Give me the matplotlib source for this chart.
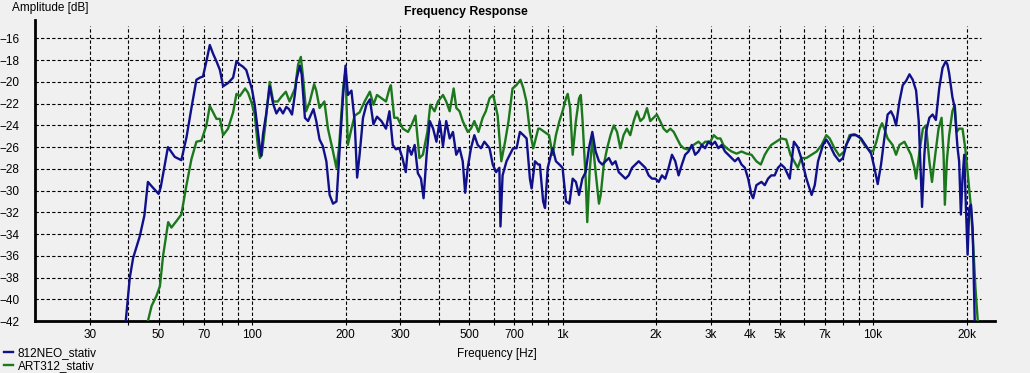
import numpy as np
import matplotlib
matplotlib.use("Agg")
import matplotlib.pyplot as plt
from matplotlib.ticker import FixedLocator, NullFormatter

# 812NEO_stativ (blue)
neo_freq = [38.5, 39.2, 40.4, 41.4, 43.5, 45, 46.2, 47.5, 50, 50.8, 53.6, 56.4, 59.2, 61.5, 63.8,
            66.2, 68, 69.5, 71.3, 73.1, 74.9, 76.8, 78.8, 80.7, 83.7, 86.9, 89.1, 91.3, 93.5, 95.8,
            98.3, 100, 102, 104.5, 106, 107, 108.5, 111, 114, 116.9, 119.8, 122.8, 125.8, 128.9,
            131.5, 134.5, 137.3, 139, 142.5, 144.5, 148, 151.5, 157.7, 161, 165, 169, 173.5, 177.8,
            182.3, 187, 191.6, 196.6, 200, 203.6, 209, 214, 218, 222, 227.7, 233.5, 239.7, 246,
            252.6, 261, 270, 277, 284, 290.6, 298, 305, 312.7, 318, 326, 334, 342, 350, 356.8, 365,
            373.7, 383, 392.5, 402, 412, 422, 433, 443.7, 454.6, 466, 477, 485.6, 495, 507, 520,
            533, 546, 560, 582, 596, 611, 626, 631, 641, 660, 676, 693, 711, 729, 748, 766, 785,
            795, 815, 835, 845, 866, 878, 896, 929, 952, 977, 1000, 1026, 1052, 1078, 1104, 1130,
            1158, 1187, 1216, 1247, 1278, 1310, 1342, 1376, 1410, 1445, 1481, 1517, 1555, 1594,
            1633, 1674, 1716, 1759, 1803, 1848, 1894, 1941, 1990, 2040, 2090, 2142, 2196, 2251,
            2307, 2364, 2423, 2483, 2545, 2608, 2673, 2740, 2808, 2878, 2950, 3023, 3098, 3175,
            3254, 3335, 3418, 3503, 3590, 3680, 3771, 3865, 3960, 4060, 4110, 4210, 4370, 4480,
            4590, 4700, 4820, 4940, 5060, 5190, 5390, 5560, 5720, 5870, 6100, 6340, 6490, 6650,
            6900, 7070, 7250, 7510, 7790, 8000, 8190, 8500, 8820, 9150, 9500, 9860, 10100, 10350,
            10610, 10870, 11140, 11420, 11650, 11860, 12160, 12460, 12780, 13100, 13420, 13760,
            14030, 14280, 14380, 14630, 14810, 15180, 15550, 15930, 16330, 16740, 17150, 17360,
            17580, 18010, 18300, 18700, 18930, 19180, 19410, 19660, 19910, 20160, 20410, 20670,
            20930, 21090, 21250, 21400]
neo_db = [-43, -42, -38, -36.2, -34.2, -32.3, -29.2, -29.6, -30.3, -29.7, -26, -26.9, -27.2, -25.1,
          -22.4, -19.8, -19.6, -19.5, -18.1, -16.6, -17.4, -18.1, -18.9, -20.4, -20.1, -19.6, -18.1,
          -18.4, -18.6, -18.9, -20.0, -20.7, -22.1, -24.6, -26.1, -26.8, -24.8, -23, -20.4, -22,
          -22.9, -22.4, -22.9, -22.3, -22.5, -23, -21.2, -19.8, -18.5, -19.3, -23.3, -23.6, -22.5,
          -23.6, -25.3, -25.9, -27.3, -30.4, -31.2, -31.0, -26.1, -21.1, -18.5, -21.2, -20.8,
          -23.6, -28.8, -26.7, -23.3, -22.1, -21.6, -23.9, -23.2, -23.6, -24.3, -22.7, -25.8,
          -26.2, -26.1, -27, -28.3, -25.9, -26.7, -25.8, -28.4, -28.9, -30.7, -26.7, -23.6, -24.3,
          -25.5, -23.6, -25.9, -23.6, -25.2, -24.6, -26.7, -26.1, -27.3, -30.2, -27.9, -26.1,
          -24.9, -25.8, -26.1, -25.5, -26.1, -27.6, -28.3, -27.9, -33.3, -28.6, -27.3, -26.7,
          -26.1, -26.1, -24.6, -24.9, -25.2, -28.9, -29.8, -27.3, -27.6, -27.6, -31, -31.6, -27.9,
          -26.1, -27.3, -27.6, -27.9, -31, -31.2, -28.9, -29.2, -30.4, -28.9, -28.3, -26.1, -24.6,
          -26.4, -27.3, -27.6, -27.3, -27, -27.6, -27.3, -28.3, -28.6, -28.9, -28.6, -27.9, -27.6,
          -27.3, -27.6, -27.9, -28.6, -28.9, -28.9, -29.2, -28.6, -28.9, -27.9, -26.7, -27.3,
          -28.6, -27.6, -26.7, -26.4, -25.8, -26.7, -26.4, -25.8, -26.1, -25.5, -25.8, -25.5,
          -26.1, -25.8, -26.4, -26.7, -27, -27.3, -27, -27.6, -27.9, -28.9, -30.4, -30.7, -29.5,
          -29.2, -29.5, -28.9, -28.6, -28.6, -27.9, -27.6, -27.9, -28.9, -25.5, -26, -27, -28.9,
          -30.4, -29.5, -27.3, -25.8, -25.3, -25.8, -26.7, -27.3, -27, -25.8, -24.9, -24.9, -25.2,
          -25.9, -26.6, -27.9, -29.4, -27.6, -25.2, -23, -22.7, -23.2, -24, -21.8, -20.3, -19.9,
          -19.3, -19.8, -20.8, -23.6, -29.2, -31.5, -26.7, -24.6, -23.3, -23, -23.5, -20.6, -18.7,
          -18.1, -18.4, -19.2, -21.4, -22.3, -26, -27.3, -32.2, -28.9, -26.7, -31.6, -35.9, -31.6,
          -31.3, -33.5, -37.8, -42, -43]

# ART312_stativ (green)
art_freq = [45.5, 46.2, 47.5, 49.2, 50.5, 51.7, 53.7, 55, 57.1, 59.2, 61.4, 63.8, 66.2, 68.7, 71.3,
            73.1, 74.9, 76.8, 78.8, 80.7, 83.7, 86.9, 89.1, 91.3, 95, 97.1, 99.6, 102, 104.5, 106,
            107.5, 110, 114, 117, 121, 124, 128.5, 132, 137.5, 140.7, 143.6, 146, 149.3, 153.5,
            158.5, 161, 165, 171, 175.6, 182.3, 186.9, 190.5, 196.6, 200, 203.5, 209, 214, 222,
            230.4, 239.6, 246, 252.6, 261, 270, 277, 280, 287, 294, 306, 318, 326, 336, 346, 355,
            367, 375, 387, 397, 412, 422, 433, 446, 455, 466, 477, 495, 507, 520, 536, 553, 566,
            582, 598, 618, 635, 653, 670, 690, 710, 732, 748, 765, 785, 805, 835, 845, 875, 905,
            929, 952, 977, 1000, 1026, 1039, 1058, 1078, 1104, 1130, 1145, 1160, 1187, 1201, 1222,
            1247, 1278, 1310, 1327, 1358, 1392, 1427, 1462, 1498, 1535, 1572, 1611, 1652, 1695,
            1737, 1781, 1825, 1870, 1916, 1963, 2012, 2062, 2115, 2168, 2224, 2280, 2336, 2395,
            2455, 2516, 2578, 2640, 2740, 2810, 2880, 2990, 3070, 3150, 3225, 3295, 3380, 3503,
            3635, 3770, 3910, 4060, 4210, 4350, 4480, 4590, 4700, 4880, 5060, 5250, 5420, 5570,
            5720, 5870, 6100, 6340, 6580, 6830, 7070, 7250, 7510, 7790, 8080, 8400, 8710, 9050,
            9380, 9730, 10000, 10250, 10500, 10690, 10870, 11140, 11560, 11860, 12160, 12620,
            12930, 13250, 13590, 13760, 14110, 14470, 14810, 15180, 15480, 15860, 16250, 16620,
            16870, 17030, 17280, 17580, 18010, 18330, 18590, 18930, 19410, 19810, 20160, 20670,
            21040, 21370, 21740, 21900]
art_db = [-43, -42, -40.6, -39.7, -38.8, -36, -32.9, -33.4, -32.8, -32.2, -29.6, -27.1, -25.5,
          -25.4, -24, -22.2, -22.8, -23.4, -23.4, -24.9, -24.3, -22.8, -21.1, -21.3, -20.6, -21,
          -21.9, -23, -26, -27, -26.7, -24.3, -20, -21.8, -21.8, -21.4, -20.9, -21.8, -20.6, -18.4,
          -17.7, -19.6, -22.7, -21.8, -20.2, -20.8, -22.4, -21.8, -24.3, -26.4, -27.9, -26.1,
          -20.5, -19, -25.8, -24.3, -23.1, -22.8, -21.8, -20.9, -22.1, -21.2, -21.5, -21.8, -20.6,
          -20.3, -23.3, -23.3, -24.3, -24.6, -24, -23.1, -27, -26.7, -24.6, -22.1, -22.7, -21.8,
          -21.2, -21.8, -22.7, -20.6, -22.4, -22.7, -23.6, -24.6, -24.3, -23.6, -24.6, -23.3,
          -22.7, -21.5, -21.2, -23.1, -27.3, -25.5, -23.6, -20.6, -20.3, -19.8, -20.6, -21.8,
          -24.6, -26.1, -24.3, -24.3, -24.6, -24.9, -26.7, -24.9, -23.6, -22.7, -21.5, -21.1,
          -22.4, -26.7, -23.6, -21.5, -21.2, -23.6, -28.9, -32.9, -28.3, -25.2, -28.3, -31.2,
          -30.4, -27.6, -26.1, -24.9, -24, -24.6, -26.1, -24.9, -24.3, -24.9, -23.6, -22.7, -23.6,
          -23.3, -22.4, -23.6, -23.3, -23, -23.6, -24.3, -24.6, -24.3, -24.6, -25.2, -25.8, -26.1,
          -26.2, -26.1, -25.8, -25.5, -25.8, -25.5, -25.5, -24.9, -25.2, -25.2, -25.8, -26.1,
          -26.4, -26.6, -26.4, -26.6, -26.7, -27.3, -27.6, -26.7, -26.2, -25.8, -25.5, -25.2,
          -25.3, -26.7, -27.3, -27.9, -27, -27, -26.7, -26.4, -25.8, -24.9, -25.2, -26.1, -26.8,
          -26.4, -24.9, -24.8, -25.1, -25.8, -26.3, -26.4, -25.5, -24.3, -23.8, -24.3, -25.2,
          -25.8, -26.7, -25.8, -25.5, -26.1, -26.7, -27.9, -28.9, -26.4, -24.3, -24, -27.3, -29.2,
          -26.7, -24.3, -23.3, -26.7, -31.3, -27.3, -24.9, -22.7, -22.1, -24.6, -24.3, -24.3,
          -26.1, -28.3, -31.6, -35.3, -39, -42, -43]

x_major = [30, 50, 70, 100, 200, 300, 500, 700, 1000, 2000, 3000, 4000, 5000, 7000, 10000, 20000]
x_major_labels = ["30", "50", "70", "100", "200", "300", "500", "700", "1k", "2k", "3k", "4k",
                  "5k", "7k", "10k", "20k"]
y_ticks = list(range(-16, -43, -2))

bg = "#f0f0f0"
plt.rcParams['font.family'] = ['Liberation Sans', 'DejaVu Sans']
plt.rcParams['font.size'] = 8.5

fig = plt.figure(figsize=(10.30, 3.73), dpi=100, facecolor=bg)
ax = fig.add_axes([35 / 1030, 1 - 321 / 373, 960 / 1030, 301 / 373])
ax.set_facecolor(bg)

l1, = ax.plot(neo_freq, neo_db, color="#10108a", lw=1.7, label="812NEO_stativ", zorder=4)
l2, = ax.plot(art_freq, art_db, color="#1c781c", lw=1.7, label="ART312_stativ", zorder=3)

ax.set_xscale("log")
ax.set_xlim(20, 24700)
ax.set_ylim(-42, -14.3)

# grid: every 1..9 multiple from 30 Hz to 20 kHz
grid_x = [m * d for d in (10, 100, 1000, 10000) for m in range(1, 10) if 30 <= m * d <= 20000]
ax.xaxis.set_major_locator(FixedLocator(x_major))
ax.set_xticklabels(x_major_labels)
ax.xaxis.set_minor_locator(FixedLocator([g for g in grid_x if g not in x_major]))
ax.xaxis.set_minor_formatter(NullFormatter())
for g in grid_x:
    ax.axvline(g, ymax=0.98, color="black", lw=0.8, ls=(0, (3, 2)), zorder=1)
ax.hlines(y_ticks, 20, 22200, color="black", lw=0.8, linestyles=(0, (3, 2)), zorder=1)

ax.set_yticks(y_ticks)
ax.tick_params(axis="y", length=0, pad=11, labelsize=8.5)
ax.tick_params(axis="x", which="both", length=3, width=0.8, pad=3, labelsize=8.5)

for s in ("top", "right"):
    ax.spines[s].set_visible(False)
for s in ("left", "bottom"):
    ax.spines[s].set_linewidth(2)

fig.text(12 / 1030, 1 - 8 / 373, "Amplitude [dB]", va="center", ha="left", fontsize=8.5)
fig.text(466 / 1030, 1 - 12 / 373, "Frequency Response", va="center", ha="center",
         fontsize=8.8, fontweight="bold")
fig.text(497 / 1030, 1 - 354 / 373, "Frequency [Hz]", va="center", ha="center", fontsize=8.5)

fig.legend(handles=[l1, l2], loc="lower left", bbox_to_anchor=(0, -0.008), frameon=False,
           handlelength=0.8, handletextpad=0.4, labelspacing=0.1, borderpad=0.2,
           borderaxespad=0.1, fontsize=8.5)

fig.savefig("out.png", dpi=100, facecolor=bg)
